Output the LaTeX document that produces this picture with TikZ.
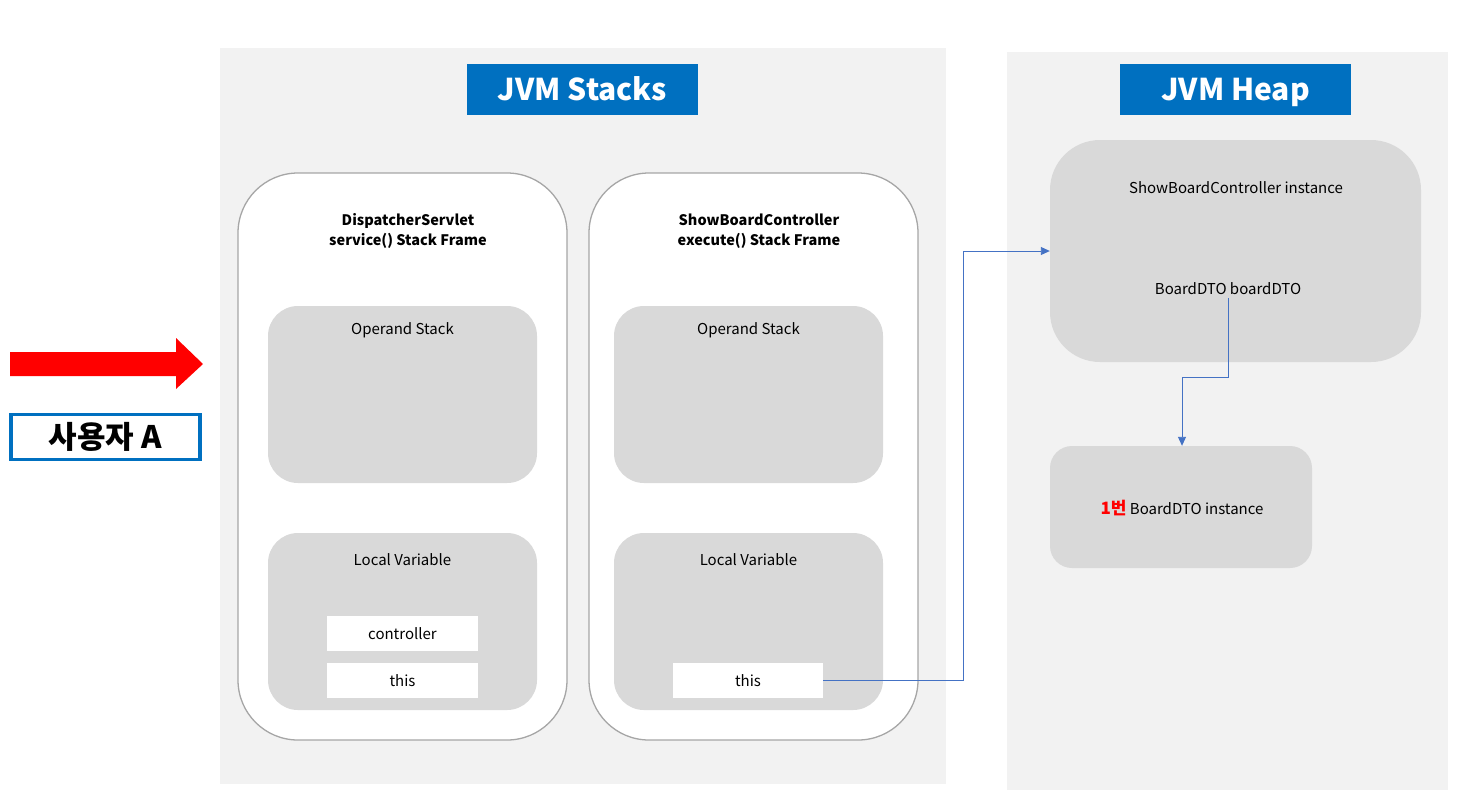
\documentclass[tikz,border=0pt]{standalone}
\usepackage{fontspec}
\newfontfamily\kr{Noto Sans CJK KR}
\usetikzlibrary{arrows.meta}
\definecolor{panelgray}{HTML}{F2F2F2}
\definecolor{boxgray}{HTML}{D9D9D9}
\definecolor{framegray}{HTML}{A6A6A6}
\definecolor{titleblue}{HTML}{0070C0}
\definecolor{linkblue}{HTML}{4472C4}
\tikzset{
    panel/.style={fill=panelgray, anchor=north west, inner sep=0},
    title/.style={fill=titleblue, text=white, font=\kr\fontsize{30}{32}\selectfont\bfseries, minimum width=231, minimum height=51, inner sep=0, text height=21pt, text depth=0pt},
    frame/.style={draw=framegray, line width=1.3pt, fill=white, rounded corners=60, minimum width=329, minimum height=567, inner sep=0},
    area/.style={fill=boxgray, rounded corners=30, minimum width=269, minimum height=177, inner sep=0},
    slot/.style={fill=white, minimum width=151, minimum height=35, inner sep=0, font=\kr\fontsize{15}{18}\selectfont},
    txt/.style={font=\kr\fontsize{15}{18}\selectfont, inner sep=0},
    head/.style={font=\kr\fontsize{14.5}{19.5}\selectfont\bfseries, align=center, inner sep=0},
    link/.style={draw=linkblue, line width=0.9pt, -{Triangle[length=9pt,width=8pt]}}
}
\begin{document}
\begin{tikzpicture}[x=1pt, y=-1pt]
    \useasboundingbox (0,0) rectangle (1458,804);

    % backgrounds
    \node [panel, minimum width=726, minimum height=736] (stacks) at (220,48) {};
    \node [panel, minimum width=441, minimum height=738] (heap) at (1007,52) {};
    \node [title] (stackstitle) at (582.5,89.5) {JVM Stacks};
    \node [title] (heaptitle) at (1235.5,89.5) {JVM Heap};

    % user request
    \fill[red] (10,352) -- (176,352) -- (176,338) -- (203,364) -- (176,389) -- (176,376) -- (10,376) -- cycle;
    \node [draw=titleblue, line width=3.5pt, minimum width=189, minimum height=45, inner sep=0,
        font=\kr\fontsize{31}{34}\selectfont\bfseries] (user) at (105.5,437) {사용자 A};

    % stack frames
    \node [frame] (frame1) at (402.5,456.5) {};
    \node [frame] (frame2) at (753.5,456.5) {};
    \node [head] (frame1head) at (408,231) {DispatcherServlet\\service() Stack Frame};
    \node [head] (frame2head) at (759,231) {ShowBoardController\\execute() Stack Frame};

    \node [area] (operand1) at (402.5,394.5) {};
    \node [area] (operand2) at (748.5,394.5) {};
    \node [area] (local1) at (402.5,621.5) {};
    \node [area] (local2) at (748.5,621.5) {};
    \node [txt] (operand1txt) at (402.5,330) {Operand Stack};
    \node [txt] (operand2txt) at (748.5,330) {Operand Stack};
    \node [txt] (local1txt) at (402.5,560) {Local Variable};
    \node [txt] (local2txt) at (748.5,560) {Local Variable};

    \node [slot] (controller1) at (402.5,633.5) {controller};
    \node [slot] (this1) at (402.5,680.5) {this};
    \node [slot, minimum width=150] (this2) at (748,680.5) {this};

    % heap objects
    \node [fill=boxgray, rounded corners=50, minimum width=371, minimum height=222, inner sep=0] (ctrlinst) at (1235.5,251) {};
    \node [txt] (ctrlinsttxt) at (1236,188) {ShowBoardController instance};
    \node [txt, inner sep=3pt] (dtofield) at (1228,289) {BoardDTO boardDTO};
    \node [fill=boxgray, rounded corners=22, minimum width=262, minimum height=122, inner sep=0] (dtoinst) at (1181,507) {};
    \node [txt] (dtoinsttxt) at (1182,508) {\textcolor{red}{\bfseries\fontsize{17}{20}\selectfont 1번} BoardDTO instance};

    % references
    \draw [link] (this2.east) -- ++(140,0) |- (ctrlinst.west);
    \coordinate (bend) at (1182,377);
    \draw [link] (dtofield.south) |- (bend) -- (dtoinst.north -| bend);
\end{tikzpicture}
\end{document}
